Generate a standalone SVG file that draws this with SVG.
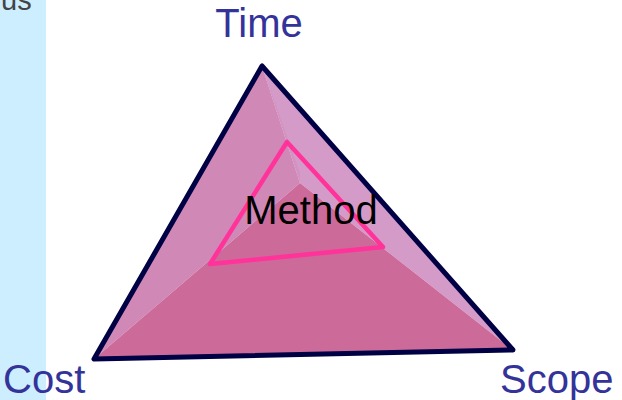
<svg xmlns="http://www.w3.org/2000/svg" width="622" height="400" viewBox="0 0 622 400">
<style>
.lbl{font-family:"Liberation Sans",Arial,sans-serif;font-size:40px;fill:#333399}
.mid{font-family:"Liberation Sans",Arial,sans-serif;font-size:40px;fill:#000000}
</style>
<rect x="0" y="0" width="622" height="400" fill="#ffffff"/>
<rect x="0" y="0" width="46" height="400" fill="#CCEEFF"/>
<text x="1" y="10" font-family="Liberation Sans, Arial, sans-serif" font-size="29" fill="#444444">us</text>
<g id="pyramid">
<polygon points="262,66 94,359 300,183" fill="#D088B7"/>
<polygon points="262,66 300,183 513,350" fill="#D49BC9"/>
<polygon points="262,66 300,173 300,183" fill="#D293C2"/>
<polygon points="94,359 300,183 513,350" fill="#CC6A9A"/>
<polygon points="262,66 94,359 513,350" fill="none" stroke="#000044" stroke-width="5" stroke-linejoin="round"/>
</g>
<g id="method">
<polygon points="287,142 210,264 383,247" fill="none" stroke="#FF3399" stroke-width="4.5" stroke-linejoin="round"/>
<text x="311" y="224" text-anchor="middle" class="mid">Method</text>
</g>
<g id="time"><text x="259" y="37" text-anchor="middle" class="lbl">Time</text></g>
<g id="cost"><text x="3" y="393" class="lbl">Cost</text></g>
<g id="scope"><text x="500" y="393" class="lbl">Scope</text></g>
<g id="connectors"></g>
</svg>
